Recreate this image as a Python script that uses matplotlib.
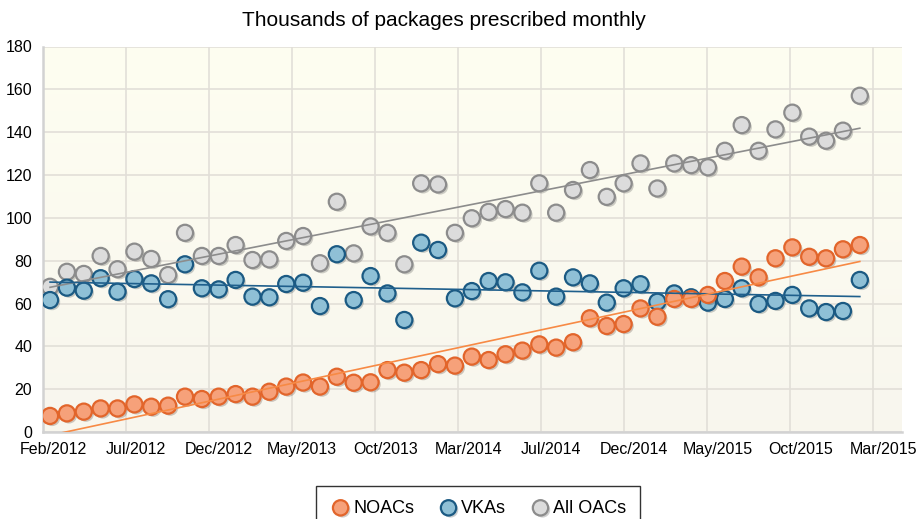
import numpy as np
import matplotlib
matplotlib.use("Agg")
import matplotlib.pyplot as plt
import matplotlib.patheffects as pe
from matplotlib.transforms import ScaledTranslation

plt.rcParams['font.family'] = ['Liberation Sans', 'DejaVu Sans']

# Datos mensuales (miles de envases), Feb/2012 .. Feb/2016
noacs = [7.5, 8.7, 9.5, 11.0, 11.0, 12.9, 11.8, 12.3, 16.5, 15.4,
         16.5, 17.7, 16.5, 18.8, 21.2, 23.1, 21.2, 25.8, 23.0, 23.2,
         28.9, 27.7, 28.9, 31.7, 31.0, 35.2, 33.6, 36.3, 38.0, 40.9,
         39.4, 41.9, 53.1, 49.5, 50.4, 57.7, 53.8, 62.1, 62.1, 64.0,
         70.5, 77.2, 72.2, 81.1, 86.2, 81.8, 81.1, 85.3, 87.3]
vkas = [61.6, 67.4, 66.0, 71.8, 65.5, 71.4, 69.4, 62.0, 78.3, 67.1,
        66.6, 71.0, 63.2, 62.9, 69.1, 69.7, 58.8, 83.0, 61.6, 72.8,
        64.7, 52.3, 88.4, 85.0, 62.4, 65.8, 70.5, 69.9, 65.2, 75.3,
        63.2, 72.2, 69.4, 60.4, 67.1, 69.0, 60.8, 64.7, 62.9, 60.4,
        62.1, 67.1, 59.8, 61.2, 64.0, 57.7, 56.0, 56.5, 71.0]
all_oacs = [67.8, 74.8, 73.8, 82.2, 76.0, 84.2, 80.8, 73.3, 93.0, 82.2,
            82.2, 87.3, 80.3, 80.6, 89.2, 91.5, 78.8, 107.5, 83.4, 96.0,
            93.0, 78.3, 116.1, 115.6, 93.0, 99.8, 102.8, 104.1, 102.4, 116.1,
            102.4, 113.0, 122.3, 109.8, 116.1, 125.4, 113.7, 125.4, 124.6, 123.6,
            131.3, 143.3, 131.3, 141.3, 149.1, 137.9, 136.0, 140.7, 157.0]
etiquetas_x = ['Feb/2012', 'Jul/2012', 'Dec/2012', 'May/2013', 'Oct/2013',
               'Mar/2014', 'Jul/2014', 'Dec/2014', 'May/2015', 'Oct/2015',
               'Mar/2015']

meses = np.arange(len(noacs))

fig = plt.figure(figsize=(9.2, 5.19), dpi=100)
ax = fig.add_axes([43.3/920, 1-432/519, (902-43.3)/920, (432-46.5)/519])

# fondo con degradado suave
xlim = (-0.4, 50.5)
ylim = (0, 180)
grad = np.linspace(0, 1, 256).reshape(-1, 1)
top = np.array([0.996, 0.996, 0.945])
bot = np.array([0.973, 0.965, 0.933])
img = top[None, None, :] * (1 - grad[..., None]) + bot[None, None, :] * grad[..., None]
ax.imshow(img, extent=(xlim[0], xlim[1], ylim[0], ylim[1]), aspect='auto',
          origin='upper', zorder=0)

series = [
    ("All OACs", all_oacs, '#dcdcdc', '#8c8c8c', '#8c8c8c'),
    ("VKAs", vkas, '#8fc0d6', '#1b5a83', '#1f5f8c'),
    ("NOACs", noacs, '#f6a17a', '#e2652b', '#f78a45'),
]

sombra = [pe.SimplePatchShadow(offset=(1.5, -1.5), alpha=0.25), pe.Normal()]
handles = {}
for nombre, datos, cara, borde, linea in series:
    h = ax.scatter(meses, datos, s=135, facecolor=cara, edgecolor=borde,
                   linewidth=1.6, zorder=3, path_effects=sombra, label=nombre)
    handles[nombre] = h

# líneas de tendencia (regresión lineal)
for nombre, datos, cara, borde, linea in series:
    m, b = np.polyfit(meses, datos, 1)
    ax.plot([0, meses[-1]], [b, m * meses[-1] + b], color=linea, lw=1.2, zorder=4)

ax.set_xlim(*xlim)
ax.set_ylim(*ylim)
ax.set_yticks(np.arange(0, 181, 20))
ax.set_xticks(np.arange(len(etiquetas_x)) * 4.92 - 0.4)
ax.set_xticklabels(etiquetas_x)
ax.tick_params(length=0, labelsize=11.5, pad=7)
ax.tick_params(axis='y', pad=8)
offset = ScaledTranslation(10/100, 0, fig.dpi_scale_trans)
for lab in ax.get_xticklabels():
    lab.set_transform(lab.get_transform() + offset)
ax.grid(True, color='#e2dfd8', lw=1.2, zorder=1)
ax.set_axisbelow(True)
for s in ['top', 'right']:
    ax.spines[s].set_visible(False)
for s in ['left', 'bottom']:
    ax.spines[s].set_color('#d2d2d2')
    ax.spines[s].set_linewidth(1.8)

fig.text(444/920, 1-21/519, "Thousands of packages prescribed monthly",
         ha='center', va='center', fontsize=15)

leg = fig.legend([handles["NOACs"], handles["VKAs"], handles["All OACs"]],
                 ["NOACs", "VKAs", "All OACs"],
                 loc='upper center', bbox_to_anchor=(478/920, 1-477/519),
                 ncol=3, fontsize=13, frameon=True, fancybox=False,
                 handletextpad=0.1, columnspacing=1.3, borderpad=0.75,
                 scatterpoints=1, handlelength=1.2, markerscale=0.95)
leg.get_frame().set_edgecolor('black')
leg.get_frame().set_linewidth(1.0)

fig.savefig("out.png", dpi=100)
